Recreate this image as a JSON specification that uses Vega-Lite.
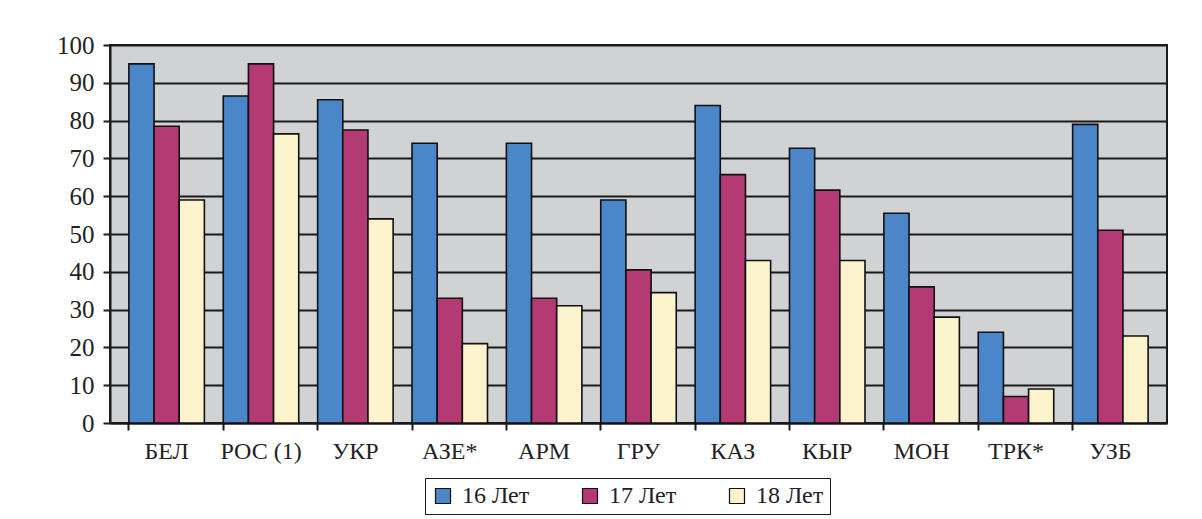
{
  "$schema": "https://vega.github.io/schema/vega-lite/v6.json",
  "width": 1057,
  "height": 378,
  "autosize": {"type": "none"},
  "padding": {"left": 110, "top": 45, "right": 35, "bottom": 96},
  "background": "white",
  "config": {
    "font": "Liberation Serif",
    "view": {"fill": "#d1d2d4", "stroke": "#1a1a1a", "strokeWidth": 2},
    "axis": {"labelFont": "Liberation Serif", "labelColor": "#222", "domainColor": "#1a1a1a", "tickColor": "#1a1a1a", "domainWidth": 2, "tickWidth": 2},
    "scale": {"bandPaddingInner": 0.34, "bandPaddingOuter": 0.17}
  },
  "data": {
    "values": [
      {"c": "БЕЛ", "s": "16 Лет", "v": 95}, {"c": "БЕЛ", "s": "17 Лет", "v": 78.5}, {"c": "БЕЛ", "s": "18 Лет", "v": 59},
      {"c": "РОС (1)", "s": "16 Лет", "v": 86.5}, {"c": "РОС (1)", "s": "17 Лет", "v": 95}, {"c": "РОС (1)", "s": "18 Лет", "v": 76.5},
      {"c": "УКР", "s": "16 Лет", "v": 85.5}, {"c": "УКР", "s": "17 Лет", "v": 77.5}, {"c": "УКР", "s": "18 Лет", "v": 54},
      {"c": "АЗЕ*", "s": "16 Лет", "v": 74}, {"c": "АЗЕ*", "s": "17 Лет", "v": 33}, {"c": "АЗЕ*", "s": "18 Лет", "v": 21},
      {"c": "АРМ", "s": "16 Лет", "v": 74}, {"c": "АРМ", "s": "17 Лет", "v": 33}, {"c": "АРМ", "s": "18 Лет", "v": 31},
      {"c": "ГРУ", "s": "16 Лет", "v": 59}, {"c": "ГРУ", "s": "17 Лет", "v": 40.5}, {"c": "ГРУ", "s": "18 Лет", "v": 34.5},
      {"c": "КАЗ", "s": "16 Лет", "v": 84}, {"c": "КАЗ", "s": "17 Лет", "v": 65.7}, {"c": "КАЗ", "s": "18 Лет", "v": 43},
      {"c": "КЫР", "s": "16 Лет", "v": 72.7}, {"c": "КЫР", "s": "17 Лет", "v": 61.6}, {"c": "КЫР", "s": "18 Лет", "v": 43},
      {"c": "МОН", "s": "16 Лет", "v": 55.5}, {"c": "МОН", "s": "17 Лет", "v": 36}, {"c": "МОН", "s": "18 Лет", "v": 28},
      {"c": "ТРК*", "s": "16 Лет", "v": 24}, {"c": "ТРК*", "s": "17 Лет", "v": 7}, {"c": "ТРК*", "s": "18 Лет", "v": 9},
      {"c": "УЗБ", "s": "16 Лет", "v": 79}, {"c": "УЗБ", "s": "17 Лет", "v": 51}, {"c": "УЗБ", "s": "18 Лет", "v": 23}
    ]
  },
  "mark": {"type": "bar", "stroke": "#111", "strokeWidth": 1.6},
  "encoding": {
    "x": {
      "field": "c", "type": "nominal", "sort": null, "title": null,
      "axis": {"labelAngle": 0, "labelFontSize": 24, "labelPadding": 9, "tickSize": 7, "bandPosition": 0, "grid": false}
    },
    "xOffset": {"field": "s", "type": "nominal", "scale": {"paddingInner": 0, "paddingOuter": 0}},
    "y": {
      "field": "v", "type": "quantitative", "title": null,
      "scale": {"domain": [0, 100], "nice": false},
      "axis": {"values": [0, 10, 20, 30, 40, 50, 60, 70, 80, 90, 100], "labelFontSize": 25, "labelPadding": 9, "tickSize": 7, "grid": true, "gridColor": "#1a1a1a", "gridWidth": 2, "gridOpacity": 1}
    },
    "color": {
      "field": "s", "type": "nominal", "title": null,
      "scale": {"domain": ["16 Лет", "17 Лет", "18 Лет"], "range": ["#4a86c8", "#b33a72", "#faf3cc"]},
      "legend": {
        "orient": "none", "legendX": 315, "legendY": 433, "direction": "horizontal",
        "strokeColor": "#1a1a1a", "padding": 6, "labelFontSize": 24, "labelFont": "Liberation Serif",
        "symbolType": "square", "symbolSize": 225, "symbolStrokeColor": "#111", "symbolStrokeWidth": 1.2,
        "symbolOpacity": 1, "columnPadding": 48, "labelOffset": 7, "labelColor": "#222"
      }
    }
  }
}
